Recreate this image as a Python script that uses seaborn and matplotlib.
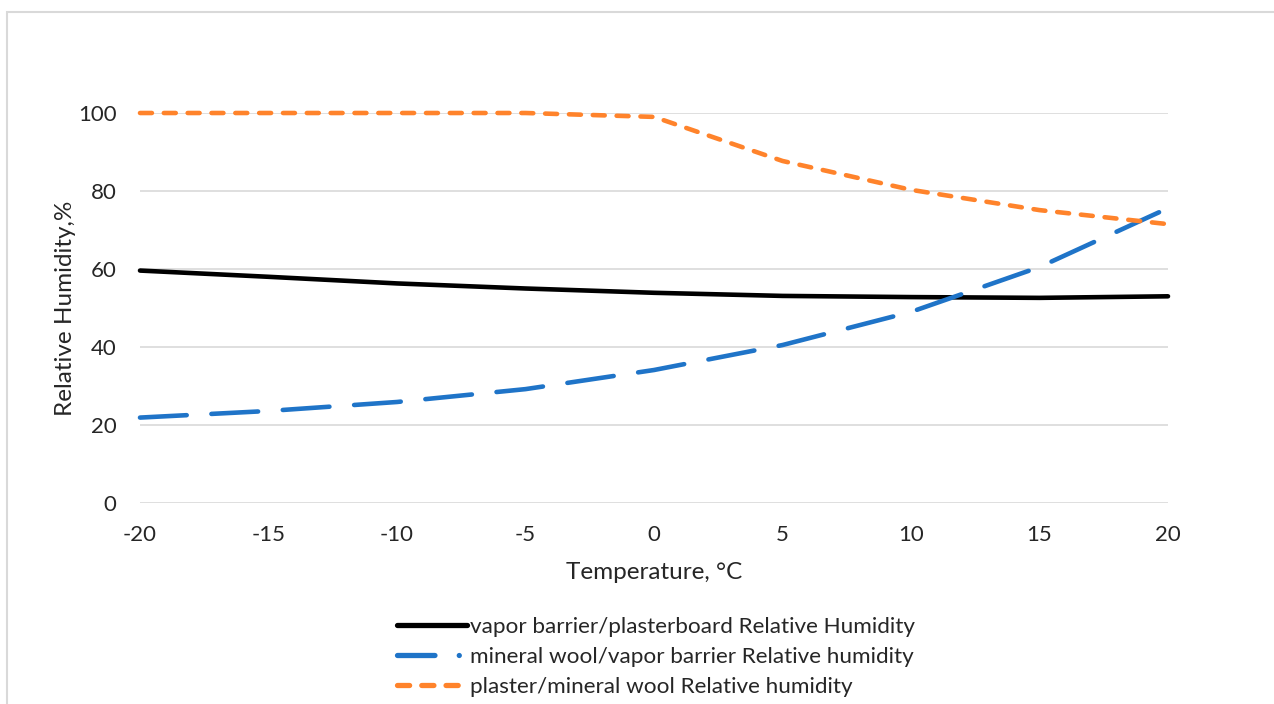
import numpy as np
import pandas as pd
import matplotlib
matplotlib.use("Agg")
import matplotlib.pyplot as plt
import seaborn as sns
from matplotlib.lines import Line2D
from matplotlib.patches import Rectangle

temperature = [-20, -15, -10, -5, 0, 5, 10, 15, 20]
vapor_barrier_plasterboard = [59.6, 58.0, 56.3, 55.0, 53.9, 53.1, 52.8, 52.6, 53.0]
mineral_wool_vapor_barrier = [21.9, 23.6, 25.9, 29.2, 34.1, 40.5, 49.0, 60.5, 75.6]
plaster_mineral_wool = [100.0, 100.0, 100.0, 100.0, 99.0, 87.7, 80.3, 75.1, 71.5]

series_names = [
    "vapor barrier/plasterboard Relative Humidity",
    "mineral wool/vapor barrier Relative humidity",
    "plaster/mineral wool Relative humidity",
]
x_ticks = [-20, -15, -10, -5, 0, 5, 10, 15, 20]
y_ticks = [0, 20, 40, 60, 80, 100]

sns.set_theme(style="white")
plt.rcParams["font.family"] = ["Lato", "DejaVu Sans"]

fig = plt.figure(figsize=(12.74, 7.04), dpi=100)
ax = fig.add_axes([140 / 1274, 1 - 503 / 704, (1168 - 140) / 1274, (503 - 113) / 704])

# chart border
fig.patches.append(Rectangle((7 / 1274, -0.01), 1.02, 1 - 12 / 704 + 0.01,
                             transform=fig.transFigure, fill=False,
                             edgecolor="#d9d9d9", linewidth=1.5, zorder=0))

df = pd.DataFrame({
    "T": temperature * 3,
    "RH": vapor_barrier_plasterboard + mineral_wool_vapor_barrier + plaster_mineral_wool,
    "series": [series_names[0]] * 9 + [series_names[1]] * 9 + [series_names[2]] * 9,
})

colors = ["#000000", "#1f74c8", "#ff832b"]
lw = 3.3
dash_styles = [None, (0, (10.2, 5.4)), (0, (2.6, 2.6))]
legend_dash_styles = [None, (0, (7.1, 4.6, 0.01, 12)), (0, (2.3, 2.3))]

sns.lineplot(data=df, x="T", y="RH", hue="series", palette=dict(zip(series_names, colors)),
             ax=ax, legend=False, linewidth=lw, sort=False)

for line, ds in zip(ax.get_lines(), dash_styles):
    line.set_solid_capstyle("round")
    line.set_dash_capstyle("round")
    line.set_clip_on(False)
    if ds is not None:
        line.set_linestyle(ds)

ax.set_xlim(-20, 20)
ax.set_ylim(0, 100)
ax.set_xticks(x_ticks)
ax.set_yticks(y_ticks)
ax.set_xticklabels([str(v) for v in x_ticks], fontsize=16)
ax.set_yticklabels([str(v) for v in y_ticks], fontsize=16)
ax.tick_params(axis="x", length=0, pad=16)
ax.tick_params(axis="y", length=0, pad=17)
ax.grid(axis="y", color="#d9d9d9", linewidth=1.2)
ax.set_axisbelow(True)
for s in ax.spines.values():
    s.set_visible(False)

ax.set_xlabel("Temperature, °C", fontsize=17.5, labelpad=12)
ax.set_ylabel("Relative Humidity,%", fontsize=17.5, labelpad=1)

handles = []
for c, ds in zip(colors, legend_dash_styles):
    h = Line2D([0], [0], color=c, linewidth=lw + 0.5, linestyle=ds if ds else "-",
               solid_capstyle="round", dash_capstyle="round")
    handles.append(h)
leg = fig.legend(handles, series_names, loc="center", bbox_to_anchor=(656 / 1274, 1 - 657 / 704),
                 ncol=1, frameon=False, fontsize=16.2, handlelength=3.1, handletextpad=0.12,
                 labelspacing=0.46)

fig.savefig("out.png", dpi=100, facecolor="white")
